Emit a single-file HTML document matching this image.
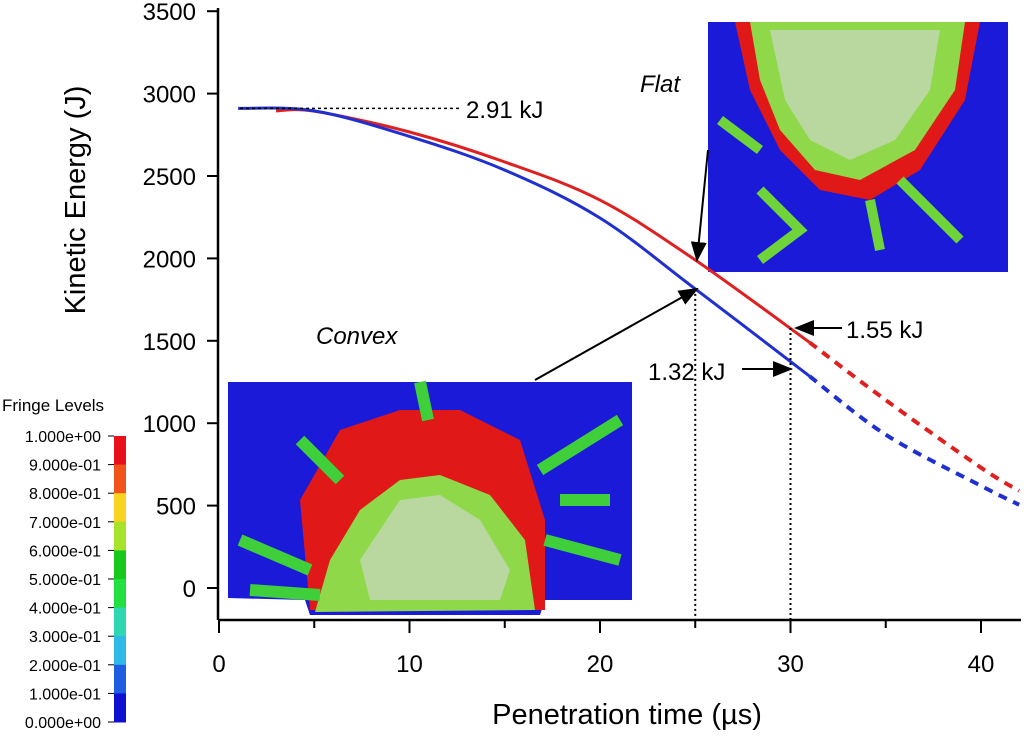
<!DOCTYPE html>
<html><head><meta charset="utf-8"><style>
body{margin:0;background:#fff;font-family:"Liberation Sans",sans-serif}
svg text{font-family:"Liberation Sans",sans-serif}
</style></head><body>
<svg width="1024" height="735" viewBox="0 0 1024 735">
<defs><marker id="ah" markerWidth="10" markerHeight="8" refX="9" refY="4" orient="auto"><path d="M0,0 L10,4 L0,8 z" fill="#000"/></marker></defs>
<g id="insets"></g>
<g id="axes"></g>
<g id="series"></g>
<g id="annot"></g>
<g id="cbar"></g>
</svg>
<script>
const xTicks=[0,10,20,30,40];
const yTicks=[0,500,1000,1500,2000,2500,3000,3500];
const tBlue=[1,5,10,15,20,25,31];
const eBlue=[2910,2895,2740,2536,2245,1815,1285];
const tBlueDash=[31,35,40,42];
const eBlueDash=[1285,930,620,505];
const tRed=[3,5,10,15,20,25,31];
const eRed=[2895,2893,2767,2585,2354,1990,1490];
const tRedDash=[31,35,40,42];
const eRedDash=[1490,1140,730,590];
const fringeLabels=["1.000e+00","9.000e-01","8.000e-01","7.000e-01","6.000e-01","5.000e-01","4.000e-01","3.000e-01","2.000e-01","1.000e-01","0.000e+00"];
const fringeColors=["#e8101a","#f0541a","#f7d21e","#a6e32a","#19c81c","#22e040","#2fd6b2","#30b8e8","#1f5ee0","#1010d0"];
const NS="http://www.w3.org/2000/svg";
const X=v=>219+v*19.05, Y=v=>588-v*0.1648;
function mk(tag,attrs,parent,txt){const e=document.createElementNS(NS,tag);for(const k in attrs)e.setAttribute(k,attrs[k]);if(txt!==undefined)e.textContent=txt;parent.appendChild(e);return e;}
const ins=document.getElementById('insets'),ax=document.getElementById('axes'),se=document.getElementById('series'),an=document.getElementById('annot'),cb=document.getElementById('cbar');
let r;
r=mk('g',{},ins);


mk('rect',{x:708,y:22,width:300,height:250,fill:'#1a1ad8'},r);
mk('path',{d:'M735,22 L980,22 L965,100 L920,170 L870,200 L820,190 L780,150 L750,90 Z',fill:'#e01818'},r);
mk('path',{d:'M750,22 L965,22 L955,90 L915,150 L860,180 L815,170 L780,130 L760,80 Z',fill:'#8fd84a'},r);
mk('path',{d:'M770,30 L940,30 L930,90 L895,140 L850,160 L810,140 L785,100 Z',fill:'#b9d8a0'},r);
mk('path',{d:'M760,190 L800,230 L760,260 M870,200 L880,250 M900,180 L960,240 M720,120 L760,150',stroke:'#6ed43a',"stroke-width":10,fill:'none'},r);
r=mk('g',{},ins);


mk('path',{d:'M228,382 L632,382 L632,600 L545,600 L540,615 L310,615 L305,600 L228,598 Z',fill:'#1a1ad8'},r);
mk('path',{d:'M300,500 L340,430 L400,410 L460,410 L520,440 L545,520 L545,610 L310,610 Z',fill:'#e01818'},r);
mk('path',{d:'M330,560 L360,510 L400,480 L440,475 L490,495 L525,540 L535,610 L315,612 Z',fill:'#8fd84a'},r);
mk('path',{d:'M360,560 L400,500 L440,495 L480,520 L510,570 L500,600 L370,600 Z',fill:'#b9d8a0'},r);
mk('path',{d:'M240,540 L310,570 M250,590 L320,595 M540,470 L620,420 M545,540 L620,560 M300,440 L340,480 M560,500 L610,500 M420,382 L428,420',stroke:'#3fcf3a',"stroke-width":12,fill:'none'},r);
r=mk('line',{x1:218,y1:620,x2:1021,y2:620,stroke:'#000','stroke-width':2.5},ax);


r=mk('line',{x1:218,y1:8,x2:218,y2:620,stroke:'#000','stroke-width':2.5},ax);


for(let i=0;i<=8;i++){mk('line',{x1:X(i*5),y1:620,x2:X(i*5),y2:i%2?628:633,stroke:'#000','stroke-width':2},ax);}
xTicks.forEach(v=>{const t=mk('text',{x:X(v),y:672,'font-size':24,'text-anchor':'middle'},ax,v);

});
yTicks.forEach(v=>{mk('line',{x1:207,y1:Y(v),x2:218,y2:Y(v),stroke:'#000','stroke-width':2},ax);const t=mk('text',{x:196,y:Y(v)+9,'font-size':24,'text-anchor':'end'},ax,v);

});
r=mk('text',{x:627,y:724,'font-size':29,'text-anchor':'middle'},ax,'Penetration time (µs)');


r=mk('text',{x:0,y:0,'font-size':29,'text-anchor':'middle',transform:'translate(85,200) rotate(-90)'},ax,'Kinetic Energy (J)');


function smooth(ts,es){const p=ts.map((t,i)=>[X(t),Y(es[i])]);let d='M'+p[0][0].toFixed(1)+','+p[0][1].toFixed(1);for(let i=0;i<p.length-1;i++){const p0=p[Math.max(0,i-1)],p1=p[i],p2=p[i+1],p3=p[Math.min(p.length-1,i+2)];const c1=[p1[0]+(p2[0]-p0[0])/6,p1[1]+(p2[1]-p0[1])/6],c2=[p2[0]-(p3[0]-p1[0])/6,p2[1]-(p3[1]-p1[1])/6];d+=' C'+c1[0].toFixed(1)+','+c1[1].toFixed(1)+' '+c2[0].toFixed(1)+','+c2[1].toFixed(1)+' '+p2[0].toFixed(1)+','+p2[1].toFixed(1);}return d;}
function line(ts,es,col,dash,name){const p=mk('path',{d:smooth(ts,es),stroke:col,'stroke-width':dash?4:3,fill:'none','stroke-dasharray':dash?'9,7':'none','stroke-linejoin':'round'},se);

}
line(tRed,eRed,'#e02020',false,'flat-series-line');
line(tBlue,eBlue,'#2030d0',false,'convex-series-line');
line(tRedDash,eRedDash,'#e02020',true,'flat-extrapolated-line');
line(tBlueDash,eBlueDash,'#2030d0',true,'convex-extrapolated-line');
mk('line',{x1:240,y1:Y(2910),x2:460,y2:Y(2910),stroke:'#000','stroke-width':1.5,'stroke-dasharray':'3,3'},an);
mk('line',{x1:X(25),y1:Y(1815),x2:X(25),y2:620,stroke:'#000','stroke-width':2,'stroke-dasharray':'2,3'},an);
mk('line',{x1:X(30),y1:328,x2:X(30),y2:620,stroke:'#000','stroke-width':2,'stroke-dasharray':'2,3'},an);
[[708,150,697,Y(1990)],[535,380,697,Y(1815)],[842,328,796,328],[742,369,791,369]].forEach(a=>{const l=mk('line',{x1:a[0],y1:a[1],x2:a[2],y2:a[3],stroke:'#000','stroke-width':2,'marker-end':'url(#ah)'},an);

});
[['2.91 kJ',466,118,false,'initial-energy-label'],['Flat',640,92,true,'flat-label'],['Convex',316,344,true,'convex-label'],['1.55 kJ',846,338,false,'flat-energy-label'],['1.32 kJ',648,380,false,'convex-energy-label']].forEach(a=>{const t=mk('text',{x:a[1],y:a[2],'font-size':24,'font-style':a[3]?'italic':'normal'},an,a[0]);

});
r=mk('text',{x:2,y:411,'font-size':17},cb,'Fringe Levels');


const cbTop=436,cbH=28.6;
fringeColors.forEach((c,i)=>{const b=mk('rect',{x:114,y:cbTop+i*cbH,width:12,height:cbH+0.5,fill:c},cb);

});
fringeLabels.forEach((l,i)=>{mk('line',{x1:108,y1:cbTop+i*cbH,x2:114,y2:cbTop+i*cbH,stroke:'#000'},cb);const t=mk('text',{x:101,y:cbTop+i*cbH+6,'font-size':16,'text-anchor':'end'},cb,l);

});
</script>
</body></html>
